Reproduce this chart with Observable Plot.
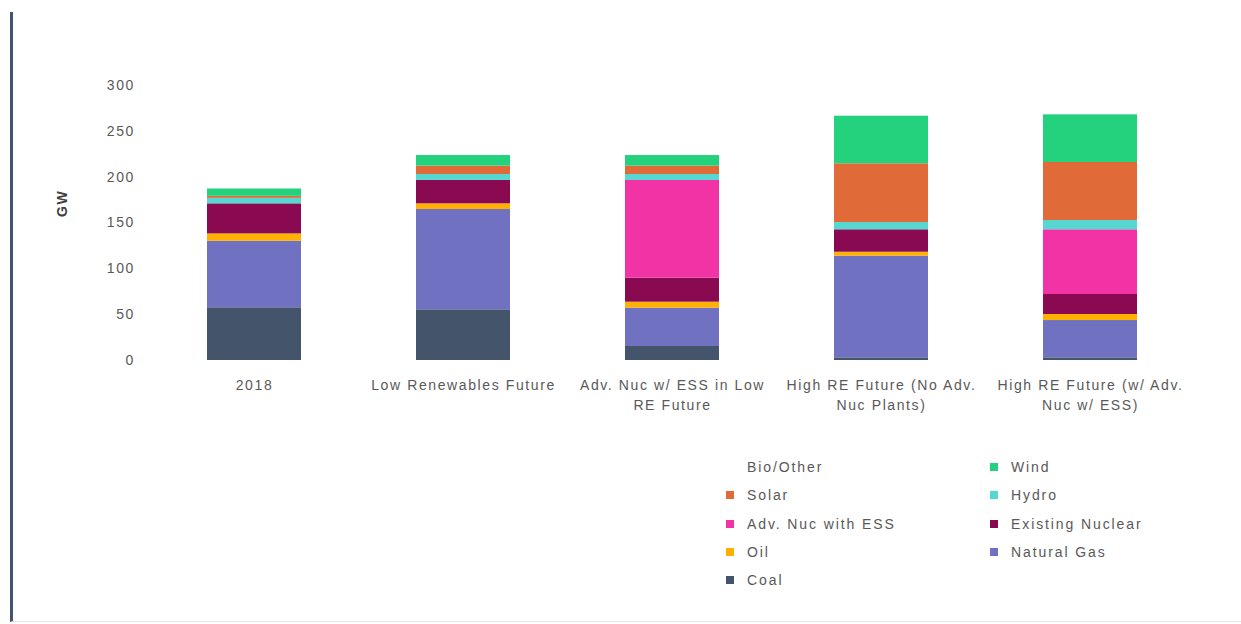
<!DOCTYPE html>
<html>
<head>
<meta charset="utf-8">
<script src="https://cdn.jsdelivr.net/npm/d3@7"></script>
<script src="https://cdn.jsdelivr.net/npm/@observablehq/plot@0.6"></script>
<style>
  body { margin: 0; background: #ffffff; font-family: "Liberation Sans", Arial, sans-serif; }
  #frame {
    position: absolute; left: 10px; top: 12px; width: 1228px; height: 609px;
    border-left: 3px solid #44546A; border-bottom: 1px solid #e6e6e6;
  }
  #chart { position: absolute; left: 0; top: 0; }
  #chart svg text { letter-spacing: 1.6px; }
  #legend {
    position: absolute; left: 726px; top: 453px;
    display: grid; grid-template-columns: 264px 220px; grid-auto-rows: 28.3px;
    font-size: 14px; color: #595959; letter-spacing: 1.9px;
  }
  .item { display: flex; align-items: center; }
  .swatch { width: 8px; height: 8px; margin-right: 13px; flex: none; }
</style>
</head>
<body>
<div id="frame"></div>
<div id="chart"></div>
<div id="legend"></div>
<script>
// Scenarios along the x axis and their wrapped tick labels
const scenarios = ["2018", "Low Renewables Future", "Adv. Nuc w/ ESS in Low RE Future",
  "High RE Future (No Adv. Nuc Plants)", "High RE Future (w/ Adv. Nuc w/ ESS)"];
const scenarioLabels = ["2018", "Low Renewables Future", "Adv. Nuc w/ ESS in Low\nRE Future",
  "High RE Future (No Adv.\nNuc Plants)", "High RE Future (w/ Adv.\nNuc w/ ESS)"];

// Installed capacity (GW) by source, one value per scenario
const coal            = [57.5, 55.3, 15.3, 2.9, 2.9];
const naturalGas      = [72.6, 109.4, 41.8, 110.9, 40.7];
const oil             = [8.0, 6.2, 6.5, 4.3, 6.6];
const existingNuclear = [32.8, 25.5, 26.2, 24.5, 21.8];
const advNucWithESS   = [0, 0, 106.6, 0, 70.6];
const hydro           = [6.0, 6.5, 6.5, 7.9, 10.1];
const solar           = [2.2, 9.1, 9.1, 64.1, 63.3];
const wind            = [8.0, 11.6, 11.6, 51.9, 52.0];
const bioOther        = [0, 0, 0, 0, 0];

// Sources from the bottom of each stack to the top
const sources = ["Coal", "Natural Gas", "Oil", "Existing Nuclear", "Adv. Nuc with ESS",
  "Hydro", "Solar", "Wind", "Bio/Other"];
const seriesValues = [coal, naturalGas, oil, existingNuclear, advNucWithESS, hydro, solar, wind, bioOther];
const sourceColors = ["#44546A", "#7171C1", "#FFB000", "#8A0A52", "#F233A6",
  "#55D8D2", "#E06A38", "#24D27E", "#FFFFFF"];

// Legend reading order (two columns, row by row)
const legendOrder = ["Bio/Other", "Wind", "Solar", "Hydro", "Adv. Nuc with ESS",
  "Existing Nuclear", "Oil", "Natural Gas", "Coal"];

const yTicks = [0, 50, 100, 150, 200, 250, 300];

const rows = [];
sources.forEach((s, i) => {
  scenarios.forEach((sc, j) => rows.push({source: s, scenario: sc, value: seriesValues[i][j]}));
});

const chart = Plot.plot({
  width: 1241,
  height: 440,
  marginLeft: 149.5,
  marginRight: 46.5,
  marginTop: 85,
  marginBottom: 80,
  style: {fontFamily: "'Liberation Sans', Arial, sans-serif", fontSize: "14px", color: "#595959", background: "transparent"},
  x: {domain: scenarios, paddingInner: 0.55, paddingOuter: 0.275, axis: null},
  y: {domain: [0, 300], ticks: yTicks, tickSize: 0, tickPadding: 15, label: null},
  color: {domain: sources, range: sourceColors},
  marks: [
    Plot.barY(rows, {x: "scenario", y: "value", fill: "source"}),
    Plot.text(scenarios, {
      x: d => d, frameAnchor: "bottom", lineAnchor: "top", dy: 15,
      text: (d, i) => scenarioLabels[i], lineHeight: 1.43, fill: "#595959", fontSize: 14
    }),
    Plot.text(["GW"], {
      frameAnchor: "left", dx: -87, dy: -6, rotate: -90, text: d => d,
      fontWeight: "bold", fontSize: 14, fill: "#404040"
    })
  ]
});
document.getElementById("chart").appendChild(chart);

// Legend
const legend = document.getElementById("legend");
legendOrder.forEach(name => {
  const item = document.createElement("div");
  item.className = "item";
  const sw = document.createElement("span");
  sw.className = "swatch";
  sw.style.background = sourceColors[sources.indexOf(name)];
  const label = document.createElement("span");
  label.textContent = name;
  item.appendChild(sw);
  item.appendChild(label);
  legend.appendChild(item);
});
</script>
</body>
</html>
